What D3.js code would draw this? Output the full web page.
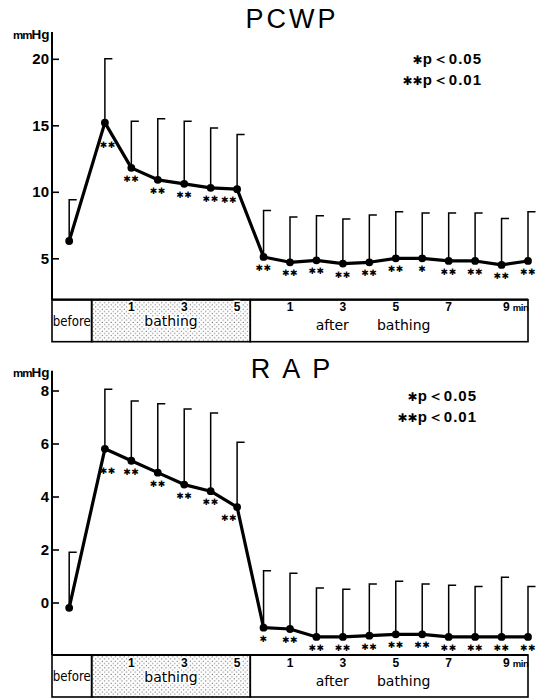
<!DOCTYPE html>
<html>
<head>
<meta charset="utf-8">
<script src="https://cdn.jsdelivr.net/npm/d3@7"></script>
<style>
body { margin: 0; background: #fff; }
text { fill: #000; }
</style>
</head>
<body>
<svg id="chart" width="548" height="700"></svg>
<script>
// where each measurement sits on the time axis:
// before, bathing 0..5 min, after bathing 0..10 min
var slots = [-1.35, 0, 1, 2, 3, 4, 5, 6, 7, 8, 9, 10, 11, 12, 13, 14, 15, 16];

var pcwpMean = [6.3, 15.2, 11.8, 10.9, 10.6, 10.3, 10.2, 5.1, 4.7, 4.85, 4.6, 4.7, 5.0, 5.0, 4.8, 4.8, 4.5, 4.8];
var pcwpSD   = [3.1, 4.8, 3.5, 4.6, 4.7, 4.5, 4.1, 3.5, 3.4, 3.35, 3.35, 3.55, 3.5, 3.4, 3.6, 3.6, 3.5, 3.7];
var pcwpSig  = ["", "**", "**", "**", "**", "**", "**", "**", "**", "**", "**", "**", "**", "*", "**", "**", "**", "**"];

var rapMean = [-0.2, 5.8, 5.35, 4.9, 4.45, 4.2, 3.6, -0.95, -1.0, -1.3, -1.3, -1.25, -1.2, -1.2, -1.3, -1.3, -1.3, -1.3];
var rapSD   = [2.1, 2.25, 2.25, 2.6, 2.85, 2.95, 2.45, 2.15, 2.1, 1.85, 1.8, 1.95, 2.0, 1.9, 1.95, 1.9, 2.25, 1.9];
var rapSig  = ["", "**", "**", "**", "**", "**", "**", "*", "**", "**", "**", "**", "**", "**", "**", "**", "**", "**"];

var pcwpTicks = [5, 10, 15, 20];
var rapTicks = [0, 2, 4, 6, 8];
var bathTicks = [1, 3, 5];          // minutes into bathing
var afterTicks = [1, 3, 5, 7, 9];   // minutes after bathing

var panels = [
    { title: "PCWP", mean: pcwpMean, sd: pcwpSD, sig: pcwpSig, ticks: pcwpTicks,
      topValue: 20, zeroPx: 324.8, topPx: 58.8, axisTop: 32, boxTop: 299.7,
      titleY: 28, legendX: 482, legendY: 64 },
    { title: "R A P", mean: rapMean, sd: rapSD, sig: rapSig, ticks: rapTicks,
      topValue: 8, zeroPx: 602.5, topPx: 390.5, axisTop: 370.7, boxTop: 655,
      titleY: 378.3, legendX: 477, legendY: 400.7 }
];

var svg = d3.select("#chart");
var x = d3.scaleLinear().domain([-2, 16]).range([52, 528]);
var boxH = 42;
var sans = "'Liberation Sans', Arial, sans-serif";
var star = "\u2731";

// stipple for the bathing period
var pat = svg.append("defs").append("pattern")
    .attr("id", "dots")
    .attr("width", 4.4).attr("height", 4.4)
    .attr("patternUnits", "userSpaceOnUse");
pat.append("circle").attr("cx", 1.1).attr("cy", 1.1).attr("r", 0.55).attr("fill", "#333");
pat.append("circle").attr("cx", 3.3).attr("cy", 3.3).attr("r", 0.55).attr("fill", "#333");

panels.forEach(function(p) {
    var y = d3.scaleLinear().domain([0, p.topValue]).range([p.zeroPx, p.topPx]);
    var g = svg.append("g");
    var rows = slots.map(function(s, i) {
        return { slot: s, mean: p.mean[i], sd: p.sd[i], sig: p.sig[i] };
    });

    // title
    g.append("text")
        .attr("x", (x(-2) + x(16)) / 2 + 2)
        .attr("y", p.titleY)
        .attr("text-anchor", "middle")
        .style("font-family", sans)
        .style("font-size", "27px")
        .style("letter-spacing", "3px")
        .text(p.title);

    // significance legend
    [["*", "p\uFF1C0.05", 0], ["**", "p\uFF1C0.01", 21]].forEach(function(l) {
        var t = g.append("text")
            .attr("x", p.legendX)
            .attr("y", p.legendY + l[2])
            .attr("text-anchor", "end")
            .style("font-family", sans)
            .style("font-weight", "bold")
            .style("font-size", "15px");
        t.append("tspan")
            .style("font-family", "'DejaVu Sans'")
            .style("font-size", "12px")
            .text(l[0].replace(/\*/g, star));
        t.append("tspan")
            .style("letter-spacing", "1px")
            .text(l[1]);
    });

    // unit
    var u = g.append("text")
        .attr("x", 13)
        .attr("y", p.axisTop + 6.5)
        .style("font-family", sans)
        .style("font-weight", "bold");
    u.append("tspan").style("font-size", "11.5px").style("letter-spacing", "-1px").text("mm");
    u.append("tspan").style("font-size", "13.5px").text("Hg");

    // y axis
    var ax = g.append("g")
        .attr("transform", "translate(" + x(-2) + ",0)")
        .call(d3.axisLeft(y).tickValues(p.ticks).tickSize(-7).tickPadding(3));
    ax.select(".domain").remove();
    ax.selectAll(".tick line").attr("stroke", "#000").attr("stroke-width", 1.6);
    ax.selectAll(".tick text")
        .style("font-family", sans)
        .style("font-weight", "bold")
        .style("font-size", "15px");

    g.append("line")
        .attr("x1", x(-2)).attr("x2", x(-2))
        .attr("y1", p.axisTop).attr("y2", p.boxTop)
        .attr("stroke", "#000").attr("stroke-width", 2);

    // period box under the plot
    var cells = [[-2, -0.5, "#fff"], [-0.5, 5.5, "url(#dots)"], [5.5, 16, "#fff"]];
    g.selectAll("rect.cell").data(cells).enter().append("rect")
        .attr("class", "cell")
        .attr("x", function(d) { return x(d[0]); })
        .attr("width", function(d) { return x(d[1]) - x(d[0]); })
        .attr("y", p.boxTop)
        .attr("height", boxH)
        .attr("fill", function(d) { return d[2]; })
        .attr("stroke", "#000")
        .attr("stroke-width", 1.6);
    g.append("line")
        .attr("x1", x(-2)).attr("x2", x(16))
        .attr("y1", p.boxTop).attr("y2", p.boxTop)
        .attr("stroke", "#000").attr("stroke-width", 2.2);

    g.append("text")
        .attr("x", x(-1.25))
        .attr("y", p.boxTop + 26)
        .attr("text-anchor", "middle")
        .attr("textLength", 38)
        .attr("lengthAdjust", "spacingAndGlyphs")
        .style("font-family", "'DejaVu Sans'")
        .style("font-size", "14px")
        .text("before");

    function halo(sel) {
        return sel.attr("stroke", "#fff").attr("stroke-width", 3)
            .attr("paint-order", "stroke").attr("stroke-linejoin", "round");
    }

    halo(g.append("text")
        .attr("x", x(2.5))
        .attr("y", p.boxTop + 26.5)
        .attr("text-anchor", "middle")
        .style("font-family", "'DejaVu Sans'")
        .style("font-size", "14px")
        .text("bathing"));

    g.append("text")
        .attr("x", x(8.6))
        .attr("y", p.boxTop + 30.5)
        .attr("text-anchor", "middle")
        .style("font-family", "'DejaVu Sans'")
        .style("font-size", "14px")
        .text("after");
    g.append("text")
        .attr("x", x(11.3))
        .attr("y", p.boxTop + 30.5)
        .attr("text-anchor", "middle")
        .style("font-family", "'DejaVu Sans'")
        .style("font-size", "14px")
        .text("bathing");

    halo(g.selectAll("text.btick").data(bathTicks).enter().append("text")
        .attr("class", "btick")
        .attr("x", function(d) { return x(d); })
        .attr("y", p.boxTop + 11.5)
        .attr("text-anchor", "middle")
        .style("font-family", sans)
        .style("font-weight", "bold")
        .style("font-size", "12px")
        .text(function(d) { return d; }));

    var at = g.selectAll("text.atick").data(afterTicks).enter().append("text")
        .attr("class", "atick")
        .attr("x", function(d, i) { return i === afterTicks.length - 1 ? x(6 + d) + 1.5 : x(6 + d); })
        .attr("y", p.boxTop + 11.5)
        .attr("text-anchor", function(d, i) { return i === afterTicks.length - 1 ? "start" : "middle"; })
        .style("font-family", sans)
        .style("font-weight", "bold")
        .style("font-size", "12px")
        .text(function(d) { return d; });
    at.filter(function(d, i) { return i === afterTicks.length - 1; })
        .append("tspan")
        .attr("dx", 3)
        .style("font-size", "9.5px")
        .style("letter-spacing", "-0.4px")
        .text("min");

    // error bars (upper side only, with cap to the right)
    g.selectAll("path.err").data(rows).enter().append("path")
        .attr("class", "err")
        .attr("d", function(d) {
            var cx = x(d.slot);
            return "M" + cx + "," + y(d.mean) + "V" + y(d.mean + d.sd) + "H" + (cx + 7.5);
        })
        .attr("fill", "none")
        .attr("stroke", "#000")
        .attr("stroke-width", 1.5);

    // mean line
    g.append("path")
        .datum(rows)
        .attr("d", d3.line()
            .x(function(d) { return x(d.slot); })
            .y(function(d) { return y(d.mean); }))
        .attr("fill", "none")
        .attr("stroke", "#000")
        .attr("stroke-width", 3.2)
        .attr("stroke-linejoin", "round");

    g.selectAll("circle.pt").data(rows).enter().append("circle")
        .attr("class", "pt")
        .attr("cx", function(d) { return x(d.slot); })
        .attr("cy", function(d) { return y(d.mean); })
        .attr("r", 3.9)
        .attr("fill", "#000");

    // significance marks: below the point, pushed into the V at the peak,
    // and to the left where the line falls steeply
    function isPeak(i) {
        var prev = rows[i - 1], next = rows[i + 1];
        return prev && next && y(prev.mean) - y(rows[i].mean) > 30 && rows[i].mean > next.mean;
    }
    g.selectAll("text.sig").data(rows).enter().append("text")
        .attr("class", "sig")
        .attr("x", function(d, i) {
            var next = rows[i + 1], dx = 0;
            if (isPeak(i)) dx = 3;
            else if (next && y(next.mean) - y(d.mean) > 30) dx = -8;
            return x(d.slot) + dx;
        })
        .attr("y", function(d, i) {
            return y(d.mean) + (isPeak(i) ? 25 : 14);
        })
        .attr("text-anchor", "middle")
        .style("font-family", "'DejaVu Sans'")
        .style("font-size", "9px")
        .style("letter-spacing", "0.5px")
        .text(function(d) { return d.sig.replace(/\*/g, star); });
});
</script>
</body>
</html>
